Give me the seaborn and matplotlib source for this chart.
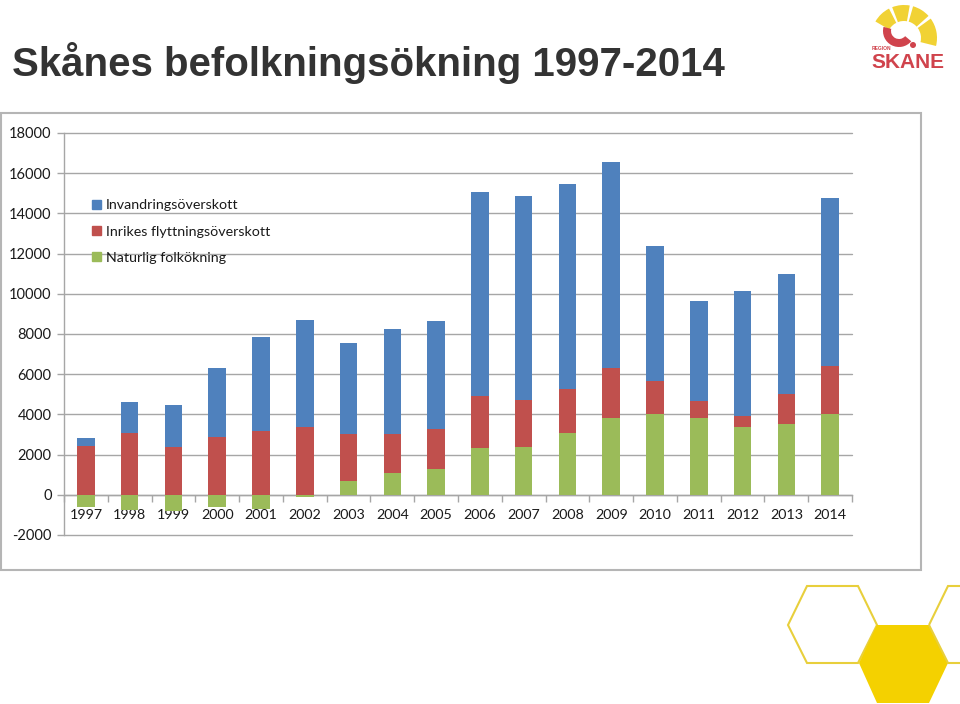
import numpy as np
import pandas as pd
import matplotlib
matplotlib.use("Agg")
import matplotlib.pyplot as plt
import seaborn as sns
from matplotlib.patches import Patch, Polygon, Rectangle, Wedge, Circle
from matplotlib import font_manager

# ---------------- data ----------------
years = [str(y) for y in range(1997, 2015)]
naturlig = [-630, -770, -800, -630, -730, -100, 700, 1080, 1260, 2340,
            2370, 3090, 3810, 4000, 3830, 3380, 3530, 4000]
inrikes = [2450, 3070, 2370, 2870, 3150, 3380, 2335, 1940, 2010, 2585,
           2356, 2150, 2510, 1640, 860, 550, 1480, 2400]
invandring = [370, 1525, 2110, 3450, 4710, 5310, 4530, 5225, 5355, 10115,
              10150, 10215, 10215, 6735, 4975, 6185, 5985, 8360]
series_names = ["Invandringsöverskott", "Inrikes flyttningsöverskott", "Naturlig folkökning"]
yticks = list(range(-2000, 18001, 2000))

BLUE, RED, GREEN = "#4F81BD", "#C0504D", "#9BBB59"
GRID = "#A6A6A6"

sns.set_theme(style="white")
plt.rcParams["font.family"] = ["Lato", "DejaVu Sans"]


def has_font(name):
    try:
        font_manager.findfont(font_manager.FontProperties(family=name),
                              fallback_to_default=False)
        return True
    except Exception:
        return False


fig = plt.figure(figsize=(9.6, 7.04), dpi=100)
fig.patch.set_facecolor("white")

# ---------- overlay (decorations in pixel coordinates) ----------
ov = fig.add_axes([0, 0, 1, 1], zorder=0)
ov.set_xlim(0, 960)
ov.set_ylim(704, 0)
ov.axis("off")

ov.add_patch(Rectangle((1, 113), 920, 457, fill=False, ec="#B5B5B5", lw=1.5))

# hexagons
ov.add_patch(Polygon([(788, 625), (807, 586), (858, 586), (877, 625), (858, 663), (807, 663)],
                     closed=True, fill=False, ec="#E8CF3C", lw=1.5))
ov.add_patch(Polygon([(859, 663), (877, 625), (929, 625), (948, 663), (929, 703), (877, 703)],
                     closed=True, fc="#F4D100", ec="none"))
ov.add_patch(Polygon([(929, 625), (948, 586), (999, 586), (1018, 625), (999, 663), (948, 663)],
                     closed=True, fill=False, ec="#E8CF3C", lw=1.5))

# logo (simplified)
LY, LR = "#F1D234", "#D0434C"
for t1, t2 in [(-150, -117), (-111, -80), (-74, -42), (-36, 14)]:
    ov.add_patch(Wedge((904, 38), 33, t1, t2, width=16, fc=LY, ec="none"))
ov.add_patch(Wedge((899, 31), 16, 40, 195, width=8, fc=LR, ec="none"))
ov.add_patch(Circle((913, 45), 3, fc=LR, ec="none"))
ov.text(872, 50, "REGION", fontsize=3.5, color=LR, fontweight="bold",
        family=["Liberation Sans", "DejaVu Sans"], va="baseline")
ov.text(871, 68, "SKANE", fontsize=15, color=LR, fontweight="bold",
        family=["Liberation Sans", "DejaVu Sans"], va="baseline")

# title
if has_font("Liberation Sans Narrow"):
    tfam, tsize = ["Liberation Sans Narrow", "DejaVu Sans"], 35
else:
    tfam, tsize = ["Liberation Sans", "DejaVu Sans"], 29
fig.text(12 / 960, 1 - 76 / 704, "Skånes befolkningsökning 1997-2014",
         fontsize=tsize, fontweight="bold", color="#333333", family=tfam,
         ha="left", va="baseline")

# ---------------- main chart ----------------
ax = fig.add_axes([64 / 960, 1 - 535 / 704, 788 / 960, 402 / 704], zorder=1)
ax.set_facecolor("none")

nat = np.array(naturlig, dtype=float)
red_top = np.clip(nat, 0, None) + np.array(inrikes)
blue_top = red_top + np.array(invandring)
df = pd.DataFrame({"year": years, "blue_top": blue_top, "red_top": red_top, "nat": nat})

common = dict(data=df, x="year", width=0.4, saturation=1, linewidth=0,
              errorbar=None, ax=ax)
sns.barplot(y="blue_top", color=BLUE, **common)
sns.barplot(y="red_top", color=RED, **common)
sns.barplot(y="nat", color=GREEN, **common)

ax.set_xlabel("")
ax.set_ylabel("")
ax.set_xlim(-0.5, len(years) - 0.5)
ax.set_ylim(-2000, 18000)
ax.set_yticks(yticks)
ax.set_yticklabels([str(v) for v in yticks])
ax.yaxis.grid(True, color=GRID, lw=1)
ax.xaxis.grid(False)
ax.set_axisbelow(True)
for gl in ax.get_ygridlines():
    gl.set_clip_on(False)

for s in ["top", "right"]:
    ax.spines[s].set_visible(False)
ax.spines["left"].set_color(GRID)
ax.spines["left"].set_linewidth(1)
ax.spines["bottom"].set_position(("data", 0))
ax.spines["bottom"].set_color(GRID)
ax.spines["bottom"].set_linewidth(1)
ax.spines["bottom"].set_zorder(0.6)

ax.set_xticks(range(len(years)))
ax.set_xticklabels(years)
ax.set_xticks(np.arange(-0.5, len(years), 1), minor=True)
ax.tick_params(axis="x", which="major", length=0, pad=10, labelsize=10.3,
               labelcolor="#1a1a1a")
ax.tick_params(axis="x", which="minor", length=5, width=1, color=GRID,
               direction="out", bottom=True)
ax.tick_params(axis="y", which="major", length=5, width=1, color=GRID,
               direction="out", left=True, pad=4, labelsize=10.5,
               labelcolor="#1a1a1a")

handles = [Patch(color=BLUE), Patch(color=RED), Patch(color=GREEN)]
leg = ax.legend(handles, series_names, loc="upper left",
                bbox_to_anchor=(0.036, 0.835), frameon=False, fontsize=10.3,
                handlelength=0.6, handleheight=0.6, handletextpad=0.35,
                labelspacing=1.0, borderaxespad=0, borderpad=0)
for t in leg.get_texts():
    t.set_color("#1a1a1a")

fig.savefig("out.png", dpi=100, facecolor="white")
